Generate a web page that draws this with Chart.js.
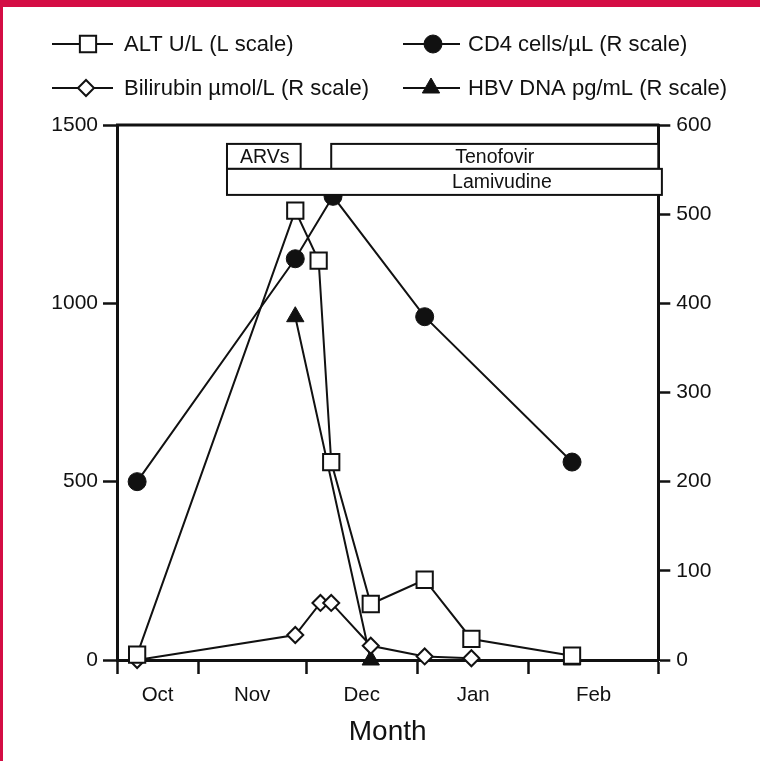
<!DOCTYPE html>
<html>
<head>
<meta charset="utf-8">
<title>ALT, bilirubin, CD4 and HBV DNA by month</title>
<script src="https://cdn.jsdelivr.net/npm/chart.js@4.4.1/dist/chart.umd.min.js"></script>
<style>
  html, body { margin: 0; padding: 0; background: #fff; }
  #wrap { position: relative; width: 760px; height: 761px; overflow: hidden; }
  #topbar { position: absolute; left: 0; top: 0; width: 760px; height: 7px; background: #d40d44; }
  #leftbar { position: absolute; left: 0; top: 0; width: 3px; height: 761px; background: #d40d44; }
  canvas { position: absolute; left: 0; top: 0; }
</style>
</head>
<body>
<div id="wrap">
  <canvas id="labChart" width="760" height="761"></canvas>
  <div id="topbar"></div>
  <div id="leftbar"></div>
</div>
<script>
// DATA (x = days counted from 1 Oct)
const altDays = [14, 58, 64.5, 68, 79, 94, 107, 135];
const altValues = [15, 1260, 1120, 555, 157, 225, 59, 12];

const cd4Days = [14, 58, 68.5, 94, 135];
const cd4Values = [200, 450, 520, 385, 222];

const biliDays = [14, 58, 65, 68, 79, 94, 107];
const biliValues = [0, 28, 64, 64, 16, 4, 2];

const hbvDays = [58, 79, 135];
const hbvValues = [385, 0, 0];

const monthNames = ["Oct", "Nov", "Dec", "Jan", "Feb"];
const monthStarts = [31, 61, 92, 123];
const dayMin = 8.4;
const dayMax = 159;

const leftTicks = [0, 500, 1000, 1500];
const rightTicks = [0, 100, 200, 300, 400, 500, 600];

// drug periods shown as boxes at the top
const drugNames = ["ARVs", "Tenofovir", "Lamivudine"];
const drugStart = [39, 68, 39];
const drugEnd = [59.5, 159, 160];
const drugLabelDay = [49.5, 113.5, 115.5];
const drugRow = [0, 0, 1];
const rowTop = [1447, 1377];
const rowBottom = [1377, 1304];

const FONT = "'Liberation Sans', Arial, Helvetica, sans-serif";
const INK = "#111";

// x axis: tick marks at month starts, labels centred in each month
const xBounds = [dayMin, ...monthStarts, dayMax];
const xTickValues = [];
const xTickLabels = [];
const xTickIsMark = [];
xBounds.forEach((b, i) => {
  xTickValues.push(b); xTickLabels.push(""); xTickIsMark.push(true);
  if (i < xBounds.length - 1) {
    xTickValues.push((b + xBounds[i + 1]) / 2);
    xTickLabels.push(monthNames[i]);
    xTickIsMark.push(false);
  }
});

function toPoints(days, values) {
  return days.map((d, i) => ({ x: d, y: values[i] }));
}

// LEGEND (2 x 2, line through marker)
const legendSlots = [
  { x0: 52, x1: 113, mx: 88, tx: 124, y: 44 },
  { x0: 403, x1: 460, mx: 433, tx: 468, y: 44 },
  { x0: 52, x1: 113, mx: 86, tx: 124, y: 88 },
  { x0: 403, x1: 460, mx: 431, tx: 468, y: 88 }
];

const legendPlugin = {
  id: "lineLegend",
  afterDraw(chart) {
    const ctx = chart.ctx;
    ctx.save();
    chart.data.datasets.forEach((ds, i) => {
      const s = legendSlots[i];
      ctx.strokeStyle = INK;
      ctx.lineWidth = 2;
      ctx.beginPath();
      ctx.moveTo(s.x0, s.y);
      ctx.lineTo(s.x1, s.y);
      ctx.stroke();
      ctx.fillStyle = ds.pointBackgroundColor;
      ctx.lineWidth = ds.pointBorderWidth;
      Chart.helpers.drawPoint(ctx, {
        pointStyle: ds.pointStyle,
        radius: ds.pointRadius,
        rotation: 0,
        borderWidth: ds.pointBorderWidth
      }, s.mx, s.y);
      ctx.fillStyle = INK;
      ctx.font = "22px " + FONT;
      ctx.textAlign = "left";
      ctx.textBaseline = "middle";
      ctx.fillText(ds.label, s.tx, s.y + 1);
    });
    ctx.restore();
  }
};

// DRUG BOXES + top frame line
const drugPlugin = {
  id: "drugBoxes",
  afterDatasetsDraw(chart) {
    const { ctx, chartArea, scales: { x, y } } = chart;
    ctx.save();
    ctx.strokeStyle = INK;
    ctx.lineWidth = 3;
    ctx.beginPath();
    ctx.moveTo(chartArea.left - 1, chartArea.top);
    ctx.lineTo(chartArea.right + 1, chartArea.top);
    ctx.stroke();

    ctx.lineWidth = 2;
    ctx.font = "19.5px " + FONT;
    ctx.textAlign = "center";
    ctx.textBaseline = "middle";
    drugNames.forEach((name, i) => {
      const left = x.getPixelForValue(drugStart[i]);
      const right = x.getPixelForValue(drugEnd[i]);
      const top = y.getPixelForValue(rowTop[drugRow[i]]);
      const bottom = y.getPixelForValue(rowBottom[drugRow[i]]);
      ctx.fillStyle = "#fff";
      ctx.fillRect(left, top, right - left, bottom - top);
      ctx.strokeRect(left, top, right - left, bottom - top);
      ctx.fillStyle = INK;
      ctx.fillText(name, x.getPixelForValue(drugLabelDay[i]), (top + bottom) / 2 + 1);
    });
    ctx.restore();
  }
};

const ctx = document.getElementById("labChart").getContext("2d");

new Chart(ctx, {
  type: "line",
  data: {
    datasets: [
      {
        label: "ALT U/L (L scale)",
        data: toPoints(altDays, altValues),
        yAxisID: "y",
        borderColor: INK, borderWidth: 2,
        pointStyle: "rect", pointRadius: 11.5,
        pointBackgroundColor: "#fff", pointBorderColor: INK, pointBorderWidth: 2
      },
      {
        label: "CD4 cells/\u00b5L (R scale)",
        data: toPoints(cd4Days, cd4Values),
        yAxisID: "y2",
        borderColor: INK, borderWidth: 2,
        pointStyle: "circle", pointRadius: 9,
        pointBackgroundColor: INK, pointBorderColor: INK, pointBorderWidth: 1
      },
      {
        label: "Bilirubin \u00b5mol/L (R scale)",
        data: toPoints(biliDays, biliValues),
        yAxisID: "y2",
        borderColor: INK, borderWidth: 2,
        pointStyle: "rectRot", pointRadius: 8,
        pointBackgroundColor: "#fff", pointBorderColor: INK, pointBorderWidth: 2
      },
      {
        label: "HBV DNA pg/mL (R scale)",
        data: toPoints(hbvDays, hbvValues),
        yAxisID: "y2",
        borderColor: INK, borderWidth: 2,
        pointStyle: "triangle", pointRadius: 10,
        pointBackgroundColor: INK, pointBorderColor: INK, pointBorderWidth: 1
      }
    ]
  },
  options: {
    responsive: false,
    animation: false,
    devicePixelRatio: 1,
    clip: false,
    layout: { padding: { top: 125, left: 0, right: 0, bottom: 0 } },
    plugins: {
      legend: { display: false },
      tooltip: { enabled: false }
    },
    elements: { line: { tension: 0 } },
    scales: {
      x: {
        type: "linear",
        min: dayMin,
        max: dayMax,
        z: 1,
        afterBuildTicks(scale) {
          scale.ticks = xTickValues.map(v => ({ value: v }));
        },
        afterFit(scale) { scale.height = 101; },
        border: { display: true, color: INK, width: 3 },
        grid: {
          drawOnChartArea: false,
          tickLength: 14,
          tickWidth: 2.5,
          tickColor: c => (xTickIsMark[c.index] ? INK : "rgba(0,0,0,0)")
        },
        ticks: {
          autoSkip: false,
          maxRotation: 0,
          padding: 9,
          color: INK,
          font: { family: FONT, size: 20.5 },
          callback: (value, index) => xTickLabels[index]
        },
        title: {
          display: true,
          text: "Month",
          color: INK,
          font: { family: FONT, size: 28 },
          padding: { top: 0, bottom: 12 }
        }
      },
      y: {
        position: "left",
        min: 0,
        max: 1500,
        z: 1,
        afterBuildTicks(scale) {
          scale.ticks = leftTicks.map(v => ({ value: v }));
        },
        afterFit(scale) { scale.width = 117; },
        border: { display: true, color: INK, width: 3 },
        grid: { drawOnChartArea: false, tickLength: 14, tickWidth: 2.5, tickColor: INK },
        ticks: {
          padding: 5,
          color: INK,
          font: { family: FONT, size: 21 },
          callback: v => String(v)
        }
      },
      y2: {
        position: "right",
        min: 0,
        max: 600,
        z: 1,
        afterBuildTicks(scale) {
          scale.ticks = rightTicks.map(v => ({ value: v }));
        },
        afterFit(scale) { scale.width = 101.7; },
        border: { display: true, color: INK, width: 3 },
        grid: { drawOnChartArea: false, tickLength: 12, tickWidth: 2.5, tickColor: INK },
        ticks: {
          padding: 6,
          color: INK,
          font: { family: FONT, size: 21 },
          callback: v => String(v)
        }
      }
    }
  },
  plugins: [drugPlugin, legendPlugin]
});
</script>
</body>
</html>
